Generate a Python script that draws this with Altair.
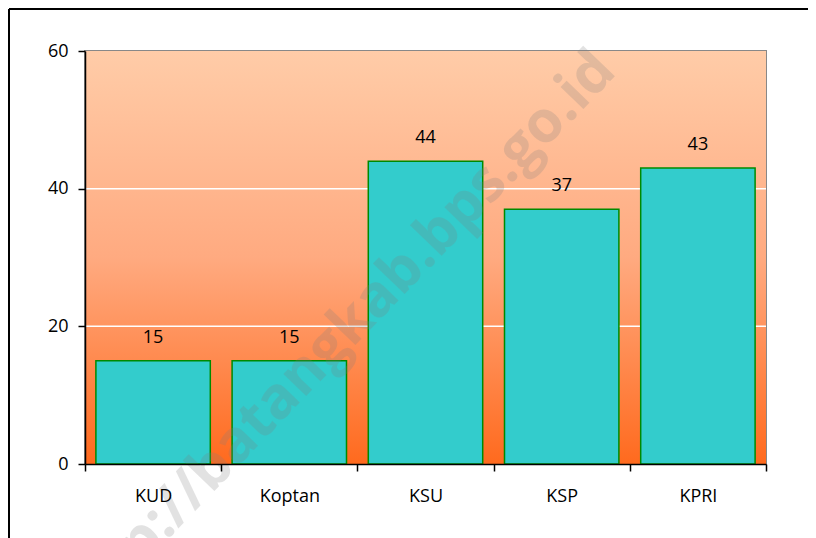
import altair as alt
import pandas as pd

categories = ["KUD", "Koptan", "KSU", "KSP", "KPRI"]
values = [15, 15, 44, 37, 43]
grid_values = [20, 40]
y_ticks = [0, 20, 40, 60]
watermark = ["http://batangkab.bps.go.id"]

W, H = 681, 413
FONT = "Open Sans"
FS = 18

df = pd.DataFrame({"cat": categories, "val": values})
grid_df = pd.DataFrame({"g": grid_values})
wm_df = pd.DataFrame({"t": watermark})

xscale = alt.Scale(domain=categories, paddingInner=0, paddingOuter=0)
yscale = alt.Scale(domain=[0, 60], nice=False)

yaxis = alt.Axis(title=None, values=y_ticks, tickSize=7,
                 tickColor="black", tickWidth=1.5,
                 domainColor="black", domainWidth=1.5,
                 labelFont=FONT, labelFontSize=FS, labelColor="black",
                 labelPadding=10, zindex=1, grid=False)
xaxis = alt.Axis(title=None, labelAngle=0, tickBand="extent",
                 tickSize=7, tickColor="black", tickWidth=1.5,
                 domainColor="black", domainWidth=1.5,
                 labelFont=FONT, labelFontSize=FS, labelColor="black",
                 labelPadding=16, zindex=1, grid=False)

bg = alt.Chart(df).mark_rect(
    color=alt.LinearGradient(
        gradient="linear", x1=0, y1=0, x2=0, y2=1,
        stops=[alt.GradientStop(offset=0, color="#FFCCA8"),
               alt.GradientStop(offset=0.5, color="#FFAA80"),
               alt.GradientStop(offset=1, color="#FF6A1E")]),
).encode(x=alt.value(0), x2=alt.value(W), y=alt.value(0), y2=alt.value(H))

grid = alt.Chart(grid_df).mark_rule(color="white", strokeWidth=1.5).encode(
    y=alt.Y("g:Q", scale=yscale, axis=yaxis)
)

bars = alt.Chart(df).mark_bar(
    color="#33CCCC", stroke="#008A00", strokeWidth=1.5,
    width=alt.RelativeBandSize(0.84),
).encode(
    x=alt.X("cat:N", scale=xscale, sort=categories, axis=xaxis),
    y=alt.Y("val:Q", scale=yscale, axis=yaxis),
)

labels = alt.Chart(df).mark_text(
    font=FONT, fontSize=FS, color="black", baseline="alphabetic", dy=-18
).encode(
    x=alt.X("cat:N", scale=xscale, sort=categories, axis=xaxis),
    y=alt.Y("val:Q", scale=yscale, axis=yaxis),
    text=alt.Text("val:Q"),
)

wm = alt.Chart(wm_df).mark_text(
    font=FONT, fontSize=58, fontWeight="bold", color="#7f7f7f", opacity=0.22,
    align="right", baseline="alphabetic", angle=314
).encode(x=alt.value(533), y=alt.value(22), text="t:N")

frame_top = alt.Chart(wm_df).mark_rule(color="black", strokeWidth=2).encode(
    x=alt.value(-76), x2=alt.value(W + 42), y=alt.value(-42))
frame_left = alt.Chart(wm_df).mark_rule(color="black", strokeWidth=2).encode(
    x=alt.value(-76), y=alt.value(-42), y2=alt.value(H + 74))

chart = alt.layer(bg, grid, bars, labels, wm, frame_top, frame_left).properties(
    width=W, height=H,
    autosize=alt.AutoSizeParams(type="none"),
    padding={"left": 77, "top": 43, "right": 42, "bottom": 74},
    background="white",
).configure_view(stroke="#888888", strokeWidth=2)

chart.save("out.html", embed_options={"renderer": "svg", "actions": False})
